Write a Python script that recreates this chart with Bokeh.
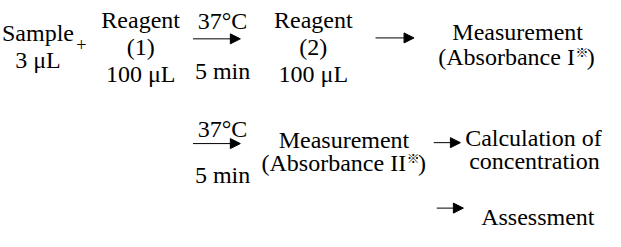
from bokeh.plotting import figure
from bokeh.models import Range1d, ColumnDataSource, Arrow, NormalHead
from bokeh.core.properties import value
from bokeh.embed import file_html
from bokeh.resources import INLINE

# ---- content (coordinates in reference-picture units) ----
centered_labels = ["Sample", "3 \u03bcL",
                   "Reagent", "(1)", "100 \u03bcL",
                   "37\u00b0C", "5 min",
                   "Reagent", "(2)", "100 \u03bcL",
                   "Measurement",
                   "37\u00b0C", "5 min",
                   "Measurement",
                   "Calculation of", "concentration"]
centered_x = [46, 46, 150, 150, 150, 233, 233, 325, 325, 325, 532, 233, 233, 356, 548, 549]
centered_y = [48, 77, 34, 63, 92, 35, 88, 34, 63, 92, 47, 150, 200, 162, 160, 185]

plus_label = ["+"]
plus_x = [90]
plus_y = [60]

# absorbance lines with superscript mark: left part / mark / closing paren
abs_left = ["(Absorbance I", "(Absorbance II"]
abs_anchor_x = [590, 419]
abs_y = [73, 187]
mark = "\u203b"

left_labels = ["Assessment"]
left_x = [495]
left_y = [244]

arrow_x0 = [203, 388, 203, 447, 450]
arrow_x1 = [251, 427, 251, 474, 477]
arrow_y = [54, 53, 166, 165, 235]

FONT = value("Liberation Serif")

p = figure(width=605, height=231, output_backend="svg", toolbar_location=None,
           x_axis_type=None, y_axis_type=None,
           x_range=Range1d(8, 621), y_range=Range1d(260, 13), min_border=0)
p.grid.visible = False
p.outline_line_color = None
p.background_fill_color = "white"
p.border_fill_color = "white"

p.text(x=centered_x, y=centered_y, text=centered_labels, text_font=FONT,
       text_font_size="24px", text_align="center", text_baseline="alphabetic",
       text_color="black")
p.text(x=plus_x, y=plus_y, text=plus_label, text_font=FONT,
       text_font_size="18px", text_align="center", text_baseline="alphabetic",
       text_color="black")
p.text(x=left_x, y=left_y, text=left_labels, text_font=FONT,
       text_font_size="24px", text_align="left", text_baseline="alphabetic",
       text_color="black")

# absorbance lines
p.text(x=abs_anchor_x, y=abs_y, text=abs_left, text_font=FONT,
       text_font_size="24px", text_align="right", text_baseline="alphabetic",
       text_color="black")
p.text(x=[a + 0.5 for a in abs_anchor_x], y=[b - 6 for b in abs_y], text=[mark] * len(abs_y),
       text_font=value("Noto Sans CJK JP"), text_font_size="13px", text_align="left",
       text_baseline="alphabetic", text_color="black")
p.text(x=[a + 12 for a in abs_anchor_x], y=abs_y, text=[")"] * len(abs_y), text_font=FONT,
       text_font_size="24px", text_align="left", text_baseline="alphabetic",
       text_color="black")

src = ColumnDataSource(dict(x0=arrow_x0, x1=arrow_x1, y=arrow_y))
p.add_layout(Arrow(end=NormalHead(size=10, fill_color="black", line_color="black", line_width=1),
                   x_start="x0", y_start="y", x_end="x1", y_end="y", source=src,
                   line_color="black", line_width=1))

open("out.html", "w").write(file_html(p, INLINE))
